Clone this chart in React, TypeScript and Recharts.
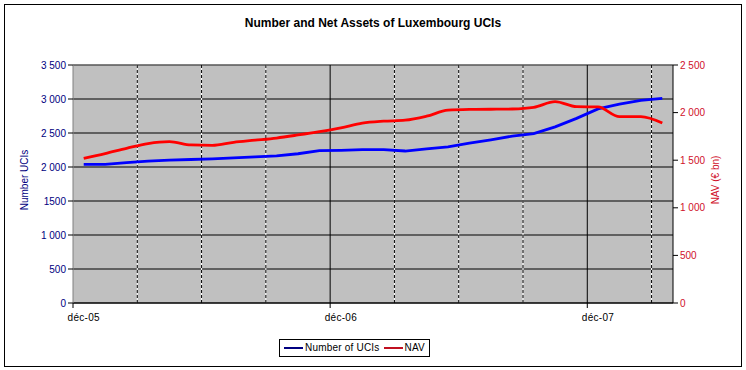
import React from "react";
import { LineChart, Line, XAxis, YAxis, CartesianGrid, ReferenceLine, Label } from "recharts";

const NAVY = "#000080";
const CRIMSON = "#d0102a";
const BLUE = "#0000ff";
const RED = "#ff0000";
const PLOT_BG = "#c0c0c0";
const FONT = "Arial, 'Liberation Sans', sans-serif";

const W = 746;
const H = 370;
const PLOT_LEFT = 73;
const PLOT_RIGHT = 673;
const PLOT_TOP = 65;
const PLOT_BOTTOM = 303;
const N_MONTHS = 28;
const MONTH_W = (PLOT_RIGHT - PLOT_LEFT) / N_MONTHS;

// monthly points, déc-05 .. mars-08
const MONTHS = [
  "déc-05", "janv-06", "févr-06", "mars-06", "avr-06", "mai-06", "juin-06",
  "juil-06", "août-06", "sept-06", "oct-06", "nov-06", "déc-06", "janv-07",
  "févr-07", "mars-07", "avr-07", "mai-07", "juin-07", "juil-07", "août-07",
  "sept-07", "oct-07", "nov-07", "déc-07", "janv-08", "févr-08", "mars-08",
];
const NUMBER_UCIS = [
  2040, 2040, 2065, 2085, 2100, 2110, 2120, 2135, 2150, 2165, 2195, 2240, 2245, 2255,
  2256, 2235, 2265, 2295, 2350, 2400, 2455, 2490, 2590, 2715, 2855, 2925, 2980, 3010,
];
const NAV = [
  1520, 1570, 1625, 1675, 1695, 1660, 1655, 1688, 1710, 1733, 1765, 1800, 1840, 1890,
  1910, 1920, 1962, 2025, 2033, 2035, 2038, 2055, 2115, 2062, 2060, 1957, 1957, 1890,
];

const LEFT_TICKS = [0, 500, 1000, 1500, 2000, 2500, 3000, 3500];
const LEFT_TICK_LABELS = ["0", "500", "1 000", "1500", "2 000", "2 500", "3 000", "3 500"];
const RIGHT_TICKS = [0, 500, 1000, 1500, 2000, 2500];
const RIGHT_TICK_LABELS = ["0", "500", "1 000", "1 500", "2 000", "2 500"];
const YEAR_TICKS = [0, 12, 24];
const YEAR_TICK_LABELS = ["déc-05", "déc-06", "déc-07"];
const QUARTER_LINES = [3, 6, 9, 15, 18, 21, 27];

const rows = MONTHS.map((m, i) => ({
  month: m,
  pos: i + 0.5,
  ucis: NUMBER_UCIS[i],
  nav: NAV[i],
}));

function YearTick(props: any) {
  const { x, payload } = props;
  const label = YEAR_TICK_LABELS[YEAR_TICKS.indexOf(payload.value)];
  return (
    <g>
      <line x1={x} x2={x} y1={PLOT_BOTTOM} y2={PLOT_BOTTOM + 5} stroke="#000" />
      <text
        x={x + MONTH_W / 2}
        y={PLOT_BOTTOM + 18}
        textAnchor="middle"
        fontSize={10}
        fontFamily={FONT}
        fill="#000"
        letterSpacing={0.3}
      >
        {label}
      </text>
    </g>
  );
}

function LegendBox() {
  const item = (color: string, text: string) => (
    <span style={{ display: "inline-flex", alignItems: "center", marginRight: 4 }}>
      <span style={{ display: "inline-block", width: 19, height: 2, background: color, marginRight: 2 }} />
      <span>{text}</span>
    </span>
  );
  return (
    <div
      style={{
        position: "absolute",
        left: 279,
        top: 339,
        width: 145,
        height: 16,
        border: "1px solid #000",
        background: "#fff",
        fontFamily: FONT,
        fontSize: 10,
        letterSpacing: 0.2,
        lineHeight: "16px",
        display: "flex",
        alignItems: "center",
        paddingLeft: 4,
        boxSizing: "content-box",
        whiteSpace: "nowrap",
      }}
    >
      {item(NAVY, "Number of UCIs")}
      {item("#c01020", "NAV")}
    </div>
  );
}

export default function App() {
  return (
    <div style={{ position: "absolute", left: 0, top: 0, width: W, height: H, background: "#fff" }}>
      <div
        style={{
          position: "absolute",
          left: 4,
          top: 4,
          width: 736,
          height: 361,
          border: "1px solid #000",
        }}
      />
      <div
        style={{
          position: "absolute",
          left: 0,
          top: 16,
          width: W,
          textAlign: "center",
          fontFamily: FONT,
          fontWeight: "bold",
          fontSize: 12,
          lineHeight: "14px",
        }}
      >
        Number and Net Assets of Luxembourg UCIs
      </div>
      <div style={{ position: "absolute", left: 0, top: 0 }}>
        <LineChart
          width={W}
          height={H}
          data={rows}
          margin={{ top: PLOT_TOP, right: 0, left: 0, bottom: 37 }}
        >
          <CartesianGrid
            yAxisId="left"
            vertical={false}
            stroke="#000"
            fill={PLOT_BG}
            fillOpacity={1}
          />
          <XAxis
            dataKey="pos"
            type="number"
            domain={[0, N_MONTHS]}
            ticks={YEAR_TICKS}
            tick={YearTick}
            tickLine={false}
            axisLine={{ stroke: "#000" }}
            height={30}
            allowDataOverflow
            interval={0}
          />
          <YAxis
            yAxisId="left"
            width={PLOT_LEFT}
            domain={[0, 3500]}
            ticks={LEFT_TICKS}
            interval={0}
            tickFormatter={(v) => LEFT_TICK_LABELS[LEFT_TICKS.indexOf(v)]}
            tick={{ fill: NAVY, fontSize: 10, fontFamily: FONT }}
            tickSize={5}
            tickLine={{ stroke: "#000" }}
            axisLine={{ stroke: "#808080" }}
          >
            <Label
              content={() => (
                <text
                  transform={`translate(28,${(PLOT_TOP + PLOT_BOTTOM) / 2 - 4}) rotate(-90)`}
                  textAnchor="middle"
                  fontSize={10}
                  fontFamily={FONT}
                  fill={NAVY}
                >
                  Number UCIs
                </text>
              )}
            />
          </YAxis>
          <YAxis
            yAxisId="right"
            orientation="right"
            width={W - PLOT_RIGHT}
            domain={[0, 2500]}
            ticks={RIGHT_TICKS}
            interval={0}
            tickFormatter={(v) => RIGHT_TICK_LABELS[RIGHT_TICKS.indexOf(v)]}
            tick={{ fill: CRIMSON, fontSize: 10, fontFamily: FONT }}
            tickSize={5}
            tickLine={{ stroke: "#000" }}
            axisLine={{ stroke: "#000" }}
          >
            <Label
              content={() => (
                <text
                  transform={`translate(719,${(PLOT_TOP + PLOT_BOTTOM) / 2 - 4}) rotate(-90)`}
                  textAnchor="middle"
                  fontSize={10}
                  fontFamily={FONT}
                  fill={CRIMSON}
                >
                  NAV (€ bn)
                </text>
              )}
            />
          </YAxis>
          <ReferenceLine yAxisId="left" y={3500} stroke="#808080" />
          {QUARTER_LINES.map((q) => (
            <ReferenceLine key={`w${q}`} yAxisId="left" x={q} stroke="#fff" />
          ))}
          {QUARTER_LINES.map((q) => (
            <ReferenceLine key={`d${q}`} yAxisId="left" x={q} stroke="#000" strokeDasharray="3 2" />
          ))}
          <ReferenceLine yAxisId="left" x={12} stroke="#000" />
          <ReferenceLine yAxisId="left" x={24} stroke="#000" />
          <Line
            yAxisId="left"
            dataKey="ucis"
            name="Number of UCIs"
            type="linear"
            stroke={BLUE}
            strokeWidth={2.8}
            dot={false}
            isAnimationActive={false}
          />
          <Line
            yAxisId="right"
            dataKey="nav"
            name="NAV"
            type="monotone"
            stroke={RED}
            strokeWidth={2.8}
            dot={false}
            isAnimationActive={false}
          />
        </LineChart>
      </div>
      <LegendBox />
    </div>
  );
}
